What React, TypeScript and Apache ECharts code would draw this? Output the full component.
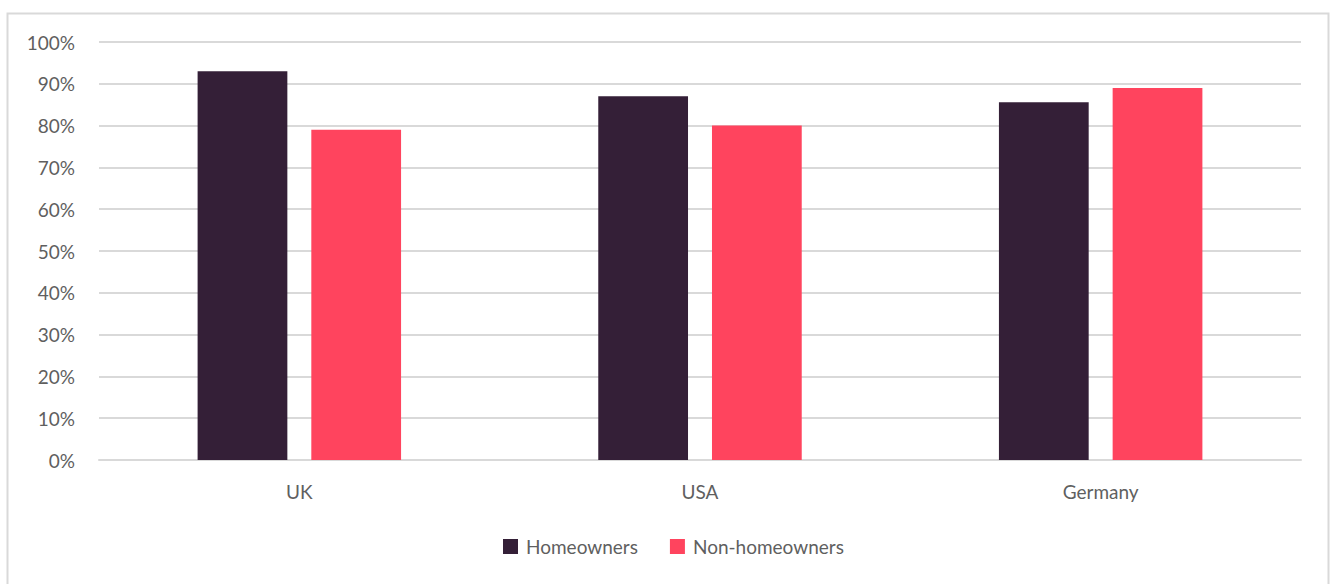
import React, { useEffect, useRef } from "react";
import * as echarts from "echarts";

const categories = ["UK", "USA", "Germany"];
const homeowners = [93, 87, 85.6];
const nonHomeowners = [79, 80, 89];
const seriesNames = ["Homeowners", "Non-homeowners"];

export default function App() {
  const ref = useRef<HTMLDivElement>(null);
  useEffect(() => {
    if (!ref.current) return;
    const chart = echarts.init(ref.current, null, { renderer: "svg" });
    const font = "Lato, 'Open Sans', sans-serif";
    chart.setOption({
      animation: false,
      backgroundColor: "#ffffff",
      textStyle: { fontFamily: font },
      graphic: [
        {
          type: "rect",
          shape: { x: 7.5, y: 13.5, width: 1321, height: 620 },
          style: { fill: "none", stroke: "#d9d9d9", lineWidth: 2 },
          silent: true,
        },
      ],
      grid: { left: 99, right: 30, top: 42, bottom: 124, containLabel: false },
      legend: {
        bottom: 23,
        left: 498,
        itemWidth: 15,
        itemHeight: 15,
        itemGap: 32,
        icon: "rect",
        data: seriesNames,
        textStyle: { color: "#5f5f5f", fontSize: 19, fontFamily: font, padding: [0, 0, 0, 3] },
      },
      xAxis: {
        type: "category",
        data: categories,
        axisLine: { show: true, lineStyle: { color: "#d9d9d9", width: 2 } },
        axisTick: { show: false },
        axisLabel: { color: "#5f5f5f", fontSize: 19, margin: 22, fontFamily: font },
      },
      yAxis: {
        type: "value",
        min: 0,
        max: 100,
        interval: 10,
        axisLine: { show: false },
        axisTick: { show: false },
        axisLabel: {
          color: "#5f5f5f",
          fontSize: 19,
          margin: 24,
          fontFamily: font,
          formatter: (v: number) => `${v}%`,
        },
        splitLine: { lineStyle: { color: "#d9d9d9", width: 2 } },
      },
      series: [
        {
          name: seriesNames[0],
          type: "bar",
          data: homeowners,
          barWidth: "22.4%",
          barGap: "26.7%",
          itemStyle: { color: "#341f37" },
        },
        {
          name: seriesNames[1],
          type: "bar",
          data: nonHomeowners,
          barWidth: "22.4%",
          itemStyle: { color: "#ff445e" },
        },
      ],
    });
    return () => chart.dispose();
  }, []);
  return (
    <div
      ref={ref}
      style={{ position: "absolute", left: 0, top: 0, width: 1331, height: 584 }}
    />
  );
}
